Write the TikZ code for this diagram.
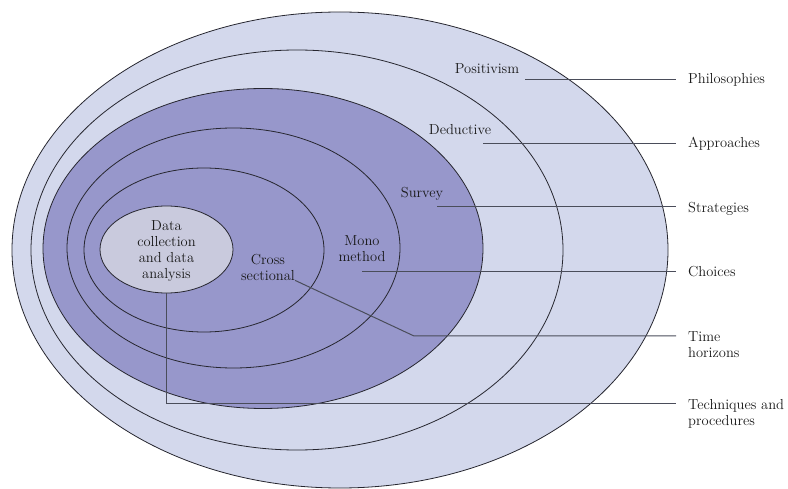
\documentclass[tikz,border=0pt]{standalone}
\usetikzlibrary{positioning,shapes.geometric}

\definecolor{outerfill}{HTML}{D3D8EC}
\definecolor{innerfill}{HTML}{9797CB}
\definecolor{datafill}{HTML}{C9CADD}
\definecolor{ringline}{HTML}{26262F}
\definecolor{leadgray}{HTML}{4A4D5A}

\begin{document}
\begin{tikzpicture}[x=1pt, y=-1pt,
    ring/.style={ellipse, draw=ringline, line width=0.8pt, inner sep=0pt},
    lbl/.style={font=\fontsize{14.5}{16}\selectfont, text=black!90, align=center, inner sep=0pt},
    side/.style={font=\fontsize{14.5}{16}\selectfont, text=black!90, align=left, inner sep=0pt},
    lead/.style={draw=leadgray, line width=1pt}
]
\useasboundingbox (0,0) rectangle (788,489);

% onion layers, outside in
\node[ring, fill=outerfill, minimum width=656, minimum height=476] (philoRing) at (340,250) {};
\node[ring, fill=outerfill, minimum width=532, minimum height=400] (approachRing) at (297,250) {};
\node[ring, fill=innerfill, minimum width=440, minimum height=320] (strategyRing) at (263,248.5) {};
\node[ring, minimum width=333, minimum height=240] (choiceRing) at (233.5,248) {};
\node[ring, minimum width=240, minimum height=164] (timeRing) at (204,250) {};
\node[ring, fill=datafill, minimum width=133, minimum height=87] (dataRing) at (166.5,249.5) {};

% labels inside the layers
\node[lbl] (positivism) at (487,69) {Positivism};
\node[lbl] (deductive) at (460,130) {Deductive};
\node[lbl] (survey) at (422,194) {Survey};
\node[lbl] (mono) at (362,249) {Mono\\method};
\node[lbl] (cross) at (268,267) {Cross\\sectional};
\node[lbl] (dataText) at (166.5,251) {Data\\collection\\and data\\analysis};

% layer names on the right
\node[side, anchor=west] (philo) at (688,80) {Philosophies};
\node[side, anchor=west] (approach) at (688,144) {Approaches};
\node[side, anchor=west] (strategy) at (688,209) {Strategies};
\node[side, anchor=west] (choice) at (688,272) {Choices};
\node[side, anchor=north west] (timeh) at (688,331) {Time\\horizons};
\node[side, anchor=north west] (tech) at (688,399) {Techniques and\\procedures};

\coordinate (philoEnd) at (676,80);
\coordinate (approachEnd) at (676,144);
\coordinate (strategyEnd) at (676,207);
\coordinate (choiceEnd) at (676,272);
\coordinate (timeBend) at (414,336);
\coordinate (timeEnd) at (676,336);
\coordinate (techEnd) at (676,403);

% leaders
\draw[lead] ([xshift=6pt]philoEnd -| positivism.east) -- (philoEnd);
\draw[lead] ([xshift=-8pt]approachEnd -| deductive.east) -- (approachEnd);
\draw[lead] ([xshift=-6pt]strategyEnd -| survey.east) -- (strategyEnd);
\draw[lead] (mono.south |- choiceEnd) -- (choiceEnd);
\draw[lead] (cross.south east) -- (timeBend) -- (timeEnd);
\draw[lead] (dataRing.south) |- (techEnd);
\end{tikzpicture}
\end{document}
